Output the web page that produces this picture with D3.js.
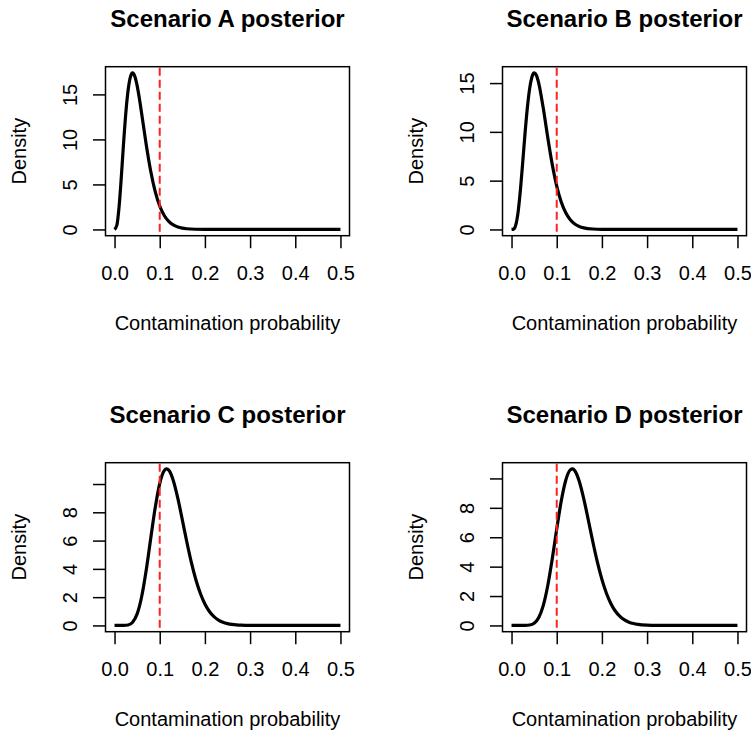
<!DOCTYPE html>
<html>
<head>
<meta charset="utf-8">
<script src="https://cdn.jsdelivr.net/npm/d3@7"></script>
<style>
  body { margin: 0; background: #fff; }
  svg { display: block; font-family: "Liberation Sans", Arial, sans-serif; }
</style>
</head>
<body>
<svg id="chart" width="751" height="733"></svg>
<script>
// Panel titles, in drawing order (A, B top row; C, D bottom row)
var titles = ["Scenario A posterior", "Scenario B posterior", "Scenario C posterior", "Scenario D posterior"];
var xLabel = "Contamination probability";
var yLabel = "Density";

// x axis ticks and the dashed reference threshold
var xTicks = [0, 0.1, 0.2, 0.3, 0.4, 0.5];
var threshold = 0.1;

// Posterior density curves
var xA = [0, 0.005, 0.01, 0.015, 0.02, 0.025, 0.03, 0.035, 0.04, 0.045, 0.05, 0.055, 0.06, 0.07, 0.08, 0.09, 0.10, 0.11, 0.12, 0.13, 0.14, 0.15, 0.16, 0.18, 0.20, 0.25, 0.5];
var densA = [0, 0.447, 2.489, 5.834, 9.586, 12.955, 15.459, 16.920, 17.381, 16.990, 15.973, 14.536, 12.879, 9.472, 6.495, 4.208, 2.606, 1.551, 0.892, 0.498, 0.271, 0.143, 0.074, 0.019, 0.004, 0, 0];

var xB = [0, 0.005, 0.01, 0.015, 0.02, 0.025, 0.03, 0.035, 0.04, 0.045, 0.05, 0.055, 0.06, 0.07, 0.08, 0.09, 0.10, 0.11, 0.12, 0.13, 0.14, 0.15, 0.16, 0.18, 0.20, 0.25, 0.5];
var densB = [0, 0.052, 0.566, 1.959, 4.227, 7.032, 9.915, 12.470, 14.407, 15.593, 16.037, 15.806, 15.031, 12.491, 9.468, 6.688, 4.450, 2.819, 1.710, 0.999, 0.565, 0.310, 0.165, 0.043, 0.010, 0, 0];

var xC = [0, 0.02, 0.03, 0.04, 0.05, 0.06, 0.07, 0.08, 0.09, 0.10, 0.11, 0.115, 0.12, 0.13, 0.14, 0.15, 0.16, 0.17, 0.18, 0.19, 0.20, 0.21, 0.22, 0.23, 0.24, 0.25, 0.26, 0.27, 0.28, 0.30, 0.5];
var densC = [0, 0.002, 0.035, 0.226, 0.817, 2.031, 3.889, 6.134, 8.328, 10.03, 10.942, 11.065, 10.979, 10.254, 8.998, 7.470, 5.901, 4.457, 3.230, 2.254, 1.517, 0.988, 0.624, 0.382, 0.227, 0.132, 0.074, 0.041, 0.022, 0.006, 0];

var xD = [0, 0.03, 0.04, 0.05, 0.06, 0.07, 0.08, 0.09, 0.10, 0.11, 0.12, 0.13, 0.135, 0.14, 0.15, 0.16, 0.17, 0.18, 0.19, 0.20, 0.21, 0.22, 0.23, 0.24, 0.25, 0.26, 0.27, 0.28, 0.30, 0.32, 0.5];
var densD = [0, 0.002, 0.027, 0.149, 0.521, 1.330, 2.680, 4.506, 6.554, 8.459, 9.876, 10.582, 10.644, 10.522, 9.796, 8.599, 7.157, 5.676, 4.305, 3.133, 2.194, 1.481, 0.966, 0.610, 0.373, 0.222, 0.128, 0.072, 0.021, 0.005, 0];

// y ticks (R dropped the "10" label on the lower panels)
var yTicksAB = [0, 5, 10, 15];
var yLabelsAB = ["0", "5", "10", "15"];
var yTicksCD = [0, 2, 4, 6, 8, 10];
var yLabelsCD = ["0", "2", "4", "6", "8", ""];

var panels = [
    { title: titles[0], xs: xA, ys: densA, ticks: yTicksAB, labels: yLabelsAB, ox: 0, oy: 0 },
    { title: titles[1], xs: xB, ys: densB, ticks: yTicksAB, labels: yLabelsAB, ox: 397, oy: 0 },
    { title: titles[2], xs: xC, ys: densC, ticks: yTicksCD, labels: yLabelsCD, ox: 0, oy: 396 },
    { title: titles[3], xs: xD, ys: densD, ticks: yTicksCD, labels: yLabelsCD, ox: 397, oy: 396 }
];

// plot box inside each panel
var box = { left: 105.5, right: 349.5, top: 66.7, bottom: 235.7 };
var tickLen = 12.5;

var svg = d3.select("#chart");

// R style range: data range widened by 4% on each side
function rPad(lo, hi) {
    var p = (hi - lo) * 0.04;
    return [lo - p, hi + p];
}

panels.forEach(function (p) {
    var g = svg.append("g").attr("transform", "translate(" + p.ox + "," + p.oy + ")");

    var x = d3.scaleLinear()
        .domain(rPad(d3.min(xTicks), d3.max(xTicks)))
        .range([box.left, box.right]);
    var y = d3.scaleLinear()
        .domain(rPad(0, d3.max(p.ys)))
        .range([box.bottom, box.top]);

    var pts = p.xs.map(function (v, i) { return [v, p.ys[i]]; });

    // x axis
    var xAxis = g.append("g")
        .attr("transform", "translate(0," + box.bottom + ")")
        .call(d3.axisBottom(x).tickValues(xTicks).tickFormat(d3.format(".1f"))
            .tickSize(tickLen).tickSizeOuter(0).tickPadding(17.6));
    xAxis.select(".domain").remove();
    xAxis.selectAll(".tick line").attr("stroke", "#000").attr("stroke-width", 1.5);
    xAxis.selectAll(".tick text").attr("font-size", 20).attr("fill", "#000")
        .attr("font-family", "Liberation Sans, Arial, sans-serif");

    // y axis, labels turned parallel to the axis
    var yAxis = g.append("g")
        .attr("transform", "translate(" + box.left + ",0)")
        .call(d3.axisLeft(y).tickValues(p.ticks)
            .tickFormat(function (d, i) { return p.labels[i]; })
            .tickSize(tickLen).tickSizeOuter(0));
    yAxis.select(".domain").remove();
    yAxis.selectAll(".tick line").attr("stroke", "#000").attr("stroke-width", 1.5);
    yAxis.selectAll(".tick text")
        .attr("transform", "rotate(-90)")
        .attr("x", 0).attr("y", -28.5).attr("dy", 0)
        .attr("text-anchor", "middle")
        .attr("font-size", 20).attr("fill", "#000")
        .attr("font-family", "Liberation Sans, Arial, sans-serif");

    // density curve
    g.append("path")
        .datum(pts)
        .attr("fill", "none")
        .attr("stroke", "#000")
        .attr("stroke-width", 3.2)
        .attr("stroke-linejoin", "round")
        .attr("d", d3.line()
            .x(function (d) { return x(d[0]); })
            .y(function (d) { return y(d[1]); })
            .curve(d3.curveMonotoneX));

    // threshold line, clipped to the box like abline
    g.append("line")
        .attr("x1", x(threshold)).attr("x2", x(threshold))
        .attr("y1", box.top + 1).attr("y2", box.bottom - 1)
        .attr("stroke", "#ff2020")
        .attr("stroke-width", 2)
        .attr("stroke-dasharray", "8,4");

    // plot frame
    g.append("rect")
        .attr("x", box.left).attr("y", box.top)
        .attr("width", box.right - box.left).attr("height", box.bottom - box.top)
        .attr("fill", "none").attr("stroke", "#000").attr("stroke-width", 1.5);

    // titles and axis labels
    g.append("text")
        .attr("x", (box.left + box.right) / 2).attr("y", 26.7)
        .attr("text-anchor", "middle")
        .attr("font-size", 24).attr("font-weight", "bold")
        .text(p.title);
    g.append("text")
        .attr("x", (box.left + box.right) / 2).attr("y", 329.5)
        .attr("text-anchor", "middle")
        .attr("font-size", 20)
        .text(xLabel);
    g.append("text")
        .attr("transform", "translate(26," + (box.top + box.bottom) / 2 + ") rotate(-90)")
        .attr("text-anchor", "middle")
        .attr("font-size", 20)
        .text(yLabel);
});
</script>
</body>
</html>
